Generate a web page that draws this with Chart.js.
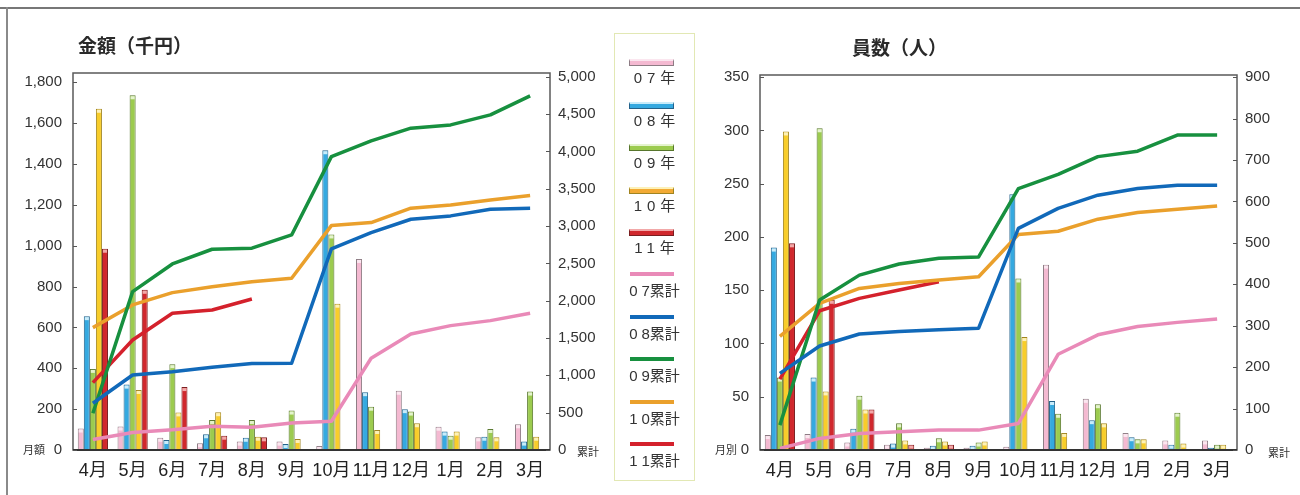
<!DOCTYPE html>
<html lang="ja">
<head>
<meta charset="utf-8">
<title>金額・員数</title>
<script src="https://cdn.jsdelivr.net/npm/chart.js@4.4.1/dist/chart.umd.min.js"></script>
<style>
  html, body { margin: 0; padding: 0; background: #fff; }
  body {
    width: 1300px; height: 495px; position: relative; overflow: hidden;
    font-family: "Liberation Sans", "Noto Sans CJK JP", sans-serif; color: #333;
  }
  .frame-top { position: absolute; left: 0; top: 7px; width: 1300px; height: 2px; background: #777; }
  .frame-left { position: absolute; left: 6px; top: 7px; width: 2px; height: 488px; background: #8a8a8a; }
  .panel { position: absolute; top: 0; width: 600px; height: 495px; }
  #panelA { left: 0; }
  #panelB { left: 700px; }
  .title {
    position: absolute; font-family: "Noto Sans CJK JP", sans-serif;
    font-size: 19px; font-weight: bold; color: #2a2a2a; line-height: 1; white-space: nowrap;
  }
  .unit {
    position: absolute; font-family: "Noto Sans CJK JP", sans-serif;
    font-size: 11px; color: #333; line-height: 1; white-space: nowrap;
  }
  #legend {
    position: absolute; left: 614px; top: 33px; width: 81px; height: 448px;
    border: 1.5px solid #e2e8b4; box-sizing: border-box;
  }
  .item { position: absolute; left: 0; width: 100%; height: 40px; }
  .swatch { position: absolute; left: 14px; width: 45px; height: 7px; box-sizing: border-box; }
  .stroke { position: absolute; left: 15px; width: 44px; height: 4px; }
  .label {
    position: absolute; left: 0; width: 100%; text-align: center;
    font-family: "Liberation Sans", "Noto Sans CJK JP", sans-serif;
    font-size: 15px; color: #333; line-height: 1; white-space: nowrap;
  }
  .label .dg { letter-spacing: 4px; }
</style>
</head>
<body>
<div class="frame-top"></div>
<div class="frame-left"></div>

<div class="panel" id="panelA"><canvas id="chartA" width="600" height="495"></canvas></div>
<div class="panel" id="panelB"><canvas id="chartB" width="600" height="495"></canvas></div>

<div class="title" style="left:78px; top:35px;">金額（千円）</div>
<div class="title" style="left:852px; top:37px;">員数（人）</div>

<div class="unit" style="left:23px; top:444px;">月額</div>
<div class="unit" style="left:577px; top:446px;">累計</div>
<div class="unit" style="left:715px; top:444px;">月別</div>
<div class="unit" style="left:1268px; top:447px;">累計</div>

<div id="legend"></div>

<script>
// Months of the fiscal year (April to March)
const months = ['4月', '5月', '6月', '7月', '8月', '9月', '10月', '11月', '12月', '1月', '2月', '3月'];

// Series names
const yearNames = ['07年', '08年', '09年', '10年', '11年'];
const cumNames  = ['07累計', '08累計', '09累計', '10累計', '11累計'];

// 金額（千円）: monthly amounts
const amt07 = [105, 115, 60, 33, 41, 41, 20, 935, 290, 114, 62, 126];
const amt08 = [655, 320, 49, 77, 60, 29, 1467, 283, 200, 90, 65, 41];
const amt09 = [397, 1736, 420, 147, 147, 193, 1055, 212, 188, 70, 103, 286];
const amt10 = [1670, 294, 184, 185, 65, 54, 716, 98, 131, 90, 62, 65];
const amt11 = [985, 784, 308, 70, 62, null, null, null, null, null, null, null];

// 金額（千円）: cumulative amounts
const amtCum07 = [140, 235, 270, 318, 305, 362, 385, 1229, 1554, 1666, 1733, 1832];
const amtCum08 = [626, 1005, 1049, 1108, 1160, 1162, 2695, 2912, 3091, 3136, 3225, 3239];
const amtCum09 = [492, 2121, 2492, 2689, 2703, 2881, 3930, 4141, 4311, 4355, 4489, 4744];
const amtCum10 = [1639, 1943, 2108, 2188, 2255, 2300, 3006, 3046, 3239, 3283, 3350, 3408];
const amtCum11 = [902, 1474, 1832, 1876, 2023, null, null, null, null, null, null, null];

// 員数（人）: monthly headcount
const num07 = [14, 15, 7, 5, 2, 2, 3, 174, 48, 16, 9, 9];
const num08 = [190, 68, 20, 6, 4, 4, 240, 46, 28, 12, 5, 2];
const num09 = [68, 302, 51, 25, 11, 7, 161, 34, 43, 10, 35, 5];
const num10 = [299, 55, 38, 9, 8, 8, 106, 16, 25, 10, 6, 5];
const num11 = [194, 141, 38, 5, 5, null, null, null, null, null, null, null];

// 員数（人）: cumulative headcount
const numCum07 = [4, 28, 40, 44, 48, 48, 64, 231, 278, 298, 308, 316];
const numCum08 = [185, 251, 280, 286, 290, 294, 535, 583, 615, 631, 639, 639];
const numCum09 = [60, 362, 422, 449, 463, 466, 631, 665, 708, 721, 760, 760];
const numCum10 = [274, 354, 390, 402, 410, 418, 520, 528, 557, 573, 581, 589];
const numCum11 = [171, 336, 366, 386, 406, null, null, null, null, null, null, null];

// Axis tick values
const amtTicks    = [0, 200, 400, 600, 800, 1000, 1200, 1400, 1600, 1800];
const amtCumTicks = [0, 500, 1000, 1500, 2000, 2500, 3000, 3500, 4000, 4500, 5000];
const numTicks    = [0, 50, 100, 150, 200, 250, 300, 350];
const numCumTicks = [0, 100, 200, 300, 400, 500, 600, 700, 800, 900];

// Colours per year: bar fill, bar outline, bar top cap, cumulative line
const barFill   = ['#f4b9d1', '#35a9e0', '#9ccb4f', '#f8cd2a', '#d0282d'];
const barEdge   = ['#8d7c84', '#24628a', '#57762c', '#a08420', '#7a1e20'];
const barCap    = ['#fbe6ef', '#c9ecfa', '#e4f3cd', '#fdf1b8', '#f2a8a8'];
const lineColor = ['#e98ab8', '#1169b9', '#17903f', '#eaa02c', '#d4212c'];
const legendFill = ['#f4b9d1', '#35a9e0', '#9ccb4f', '#f2aa34', '#d0282d'];

const fontTick = { family: '"Liberation Sans", "Noto Sans CJK JP", sans-serif', size: 15 };
const fontCat  = { family: '"Liberation Sans", "Noto Sans CJK JP", sans-serif', size: 18 };

// Box around the plot area plus short inward tick marks on both value axes
const frameTicks = {
  id: 'frameTicks',
  afterDraw(chart) {
    const { ctx, chartArea: a } = chart;
    ctx.save();
    ctx.strokeStyle = '#5a5a5a';
    ctx.lineWidth = 1.5;
    ctx.strokeRect(a.left, a.top, a.right - a.left, a.bottom - a.top);
    ctx.strokeStyle = '#333';
    ctx.lineWidth = 2;
    ctx.beginPath();
    ctx.moveTo(a.left, a.bottom);
    ctx.lineTo(a.right, a.bottom);
    ctx.stroke();
    ctx.lineWidth = 1;
    ctx.strokeStyle = '#555';
    ['y', 'y2'].forEach(id => {
      const s = chart.scales[id];
      s.ticks.forEach(t => {
        const py = Math.round(s.getPixelForValue(t.value)) + 0.5;
        ctx.beginPath();
        if (s.position === 'left') { ctx.moveTo(a.left, py); ctx.lineTo(a.left + 4, py); }
        else { ctx.moveTo(a.right - 4, py); ctx.lineTo(a.right, py); }
        ctx.stroke();
      });
    });
    ctx.restore();
  }
};

// Light cap on top of every bar, drawn right after its own dataset
const barCaps = {
  id: 'barCaps',
  afterDatasetDraw(chart, args) {
    const meta = args.meta;
    if (meta.type !== 'bar') return;
    const ds = chart.data.datasets[args.index];
    const { ctx } = chart;
    ctx.save();
    ctx.fillStyle = ds.capColor;
    meta.data.forEach((el, i) => {
      if (ds.data[i] == null) return;
      const p = el.getProps(['x', 'y', 'base', 'width'], true);
      const h = Math.min(3, Math.abs(p.base - p.y) - 1);
      if (h <= 0) return;
      ctx.fillRect(p.x - p.width / 2 + 1, p.y + 1, p.width - 2, h);
    });
    ctx.restore();
  }
};

function barSet(i, values) {
  return {
    type: 'bar', label: yearNames[i], data: values, yAxisID: 'y', order: 2,
    backgroundColor: barFill[i], borderColor: barEdge[i], borderWidth: 1,
    capColor: barCap[i], barPercentage: 1.0, categoryPercentage: 0.76
  };
}
function lineSet(i, values) {
  return {
    type: 'line', label: cumNames[i], data: values, yAxisID: 'y2', order: 1,
    borderColor: lineColor[i], backgroundColor: lineColor[i], borderWidth: 3.5,
    pointRadius: 0, tension: 0, spanGaps: false, borderCapStyle: 'butt', borderJoinStyle: 'round'
  };
}

function build(canvasId, bars, lines, leftMax, rightMax, leftTicks, rightTicks, leftW, rightW, top) {
  const fmt = v => Number(v).toLocaleString('en-US');
  return new Chart(document.getElementById(canvasId), {
    data: {
      labels: months,
      datasets: [
        ...lines.map((v, i) => lineSet(i, v)),
        ...bars.map((v, i) => barSet(i, v))
      ]
    },
    options: {
      responsive: false, animation: false,
      layout: { padding: { top: top, left: 0, right: 0, bottom: 0 } },
      plugins: { legend: { display: false }, tooltip: { enabled: false }, title: { display: false } },
      scales: {
        x: {
          grid: { display: false, drawTicks: false }, border: { display: false },
          ticks: { font: fontCat, color: '#222', padding: 10, maxRotation: 0, autoSkip: false },
          afterFit(s) { s.height = 495 - 450; }
        },
        y: {
          position: 'left', min: 0, max: leftMax,
          grid: { display: false, drawTicks: false }, border: { display: false },
          ticks: { font: fontTick, color: '#333', padding: 11, callback: fmt },
          afterBuildTicks(s) { s.ticks = leftTicks.map(v => ({ value: v })); },
          afterFit(s) { s.width = leftW; }
        },
        y2: {
          position: 'right', min: 0, max: rightMax,
          grid: { display: false, drawTicks: false }, border: { display: false },
          ticks: { font: fontTick, color: '#333', padding: 8, callback: fmt },
          afterBuildTicks(s) { s.ticks = rightTicks.map(v => ({ value: v })); },
          afterFit(s) { s.width = rightW; }
        }
      }
    },
    plugins: [barCaps, frameTicks]
  });
}

build('chartA',
  [amt07, amt08, amt09, amt10, amt11],
  [amtCum07, amtCum08, amtCum09, amtCum10, amtCum11],
  1845, 5050, amtTicks, amtCumTicks, 73, 50, 73);

build('chartB',
  [num07, num08, num09, num10, num11],
  [numCum07, numCum08, numCum09, numCum10, numCum11],
  352, 905, numTicks, numCumTicks, 60, 63, 75);

// Shared legend box between the two panels
(function () {
  const box = document.getElementById('legend');
  const pitch = 42.6;
  const html = [];
  yearNames.forEach((name, i) => {
    const top = 25 + i * pitch;
    html.push(
      '<div class="item" style="top:' + top + 'px">' +
        '<div class="swatch" style="top:0; background:' + legendFill[i] +
          '; border:1px solid ' + barEdge[i] + '; border-top:2px solid ' + barCap[i] + ';"></div>' +
        '<div class="label" style="top:11px; letter-spacing:5px; padding-left:5px; box-sizing:border-box;">' + name + '</div>' +
      '</div>');
  });
  cumNames.forEach((name, i) => {
    const top = 25 + (i + 5) * pitch;
    const digits = name.slice(0, 2), rest = name.slice(2);
    html.push(
      '<div class="item" style="top:' + top + 'px">' +
        '<div class="stroke" style="top:0; background:' + lineColor[i] + ';"></div>' +
        '<div class="label" style="top:11px;"><span class="dg">' + digits.slice(0, 1) + '</span>' + digits.slice(1) + rest + '</div>' +
      '</div>');
  });
  box.innerHTML = html.join('');
})();
</script>
</body>
</html>
